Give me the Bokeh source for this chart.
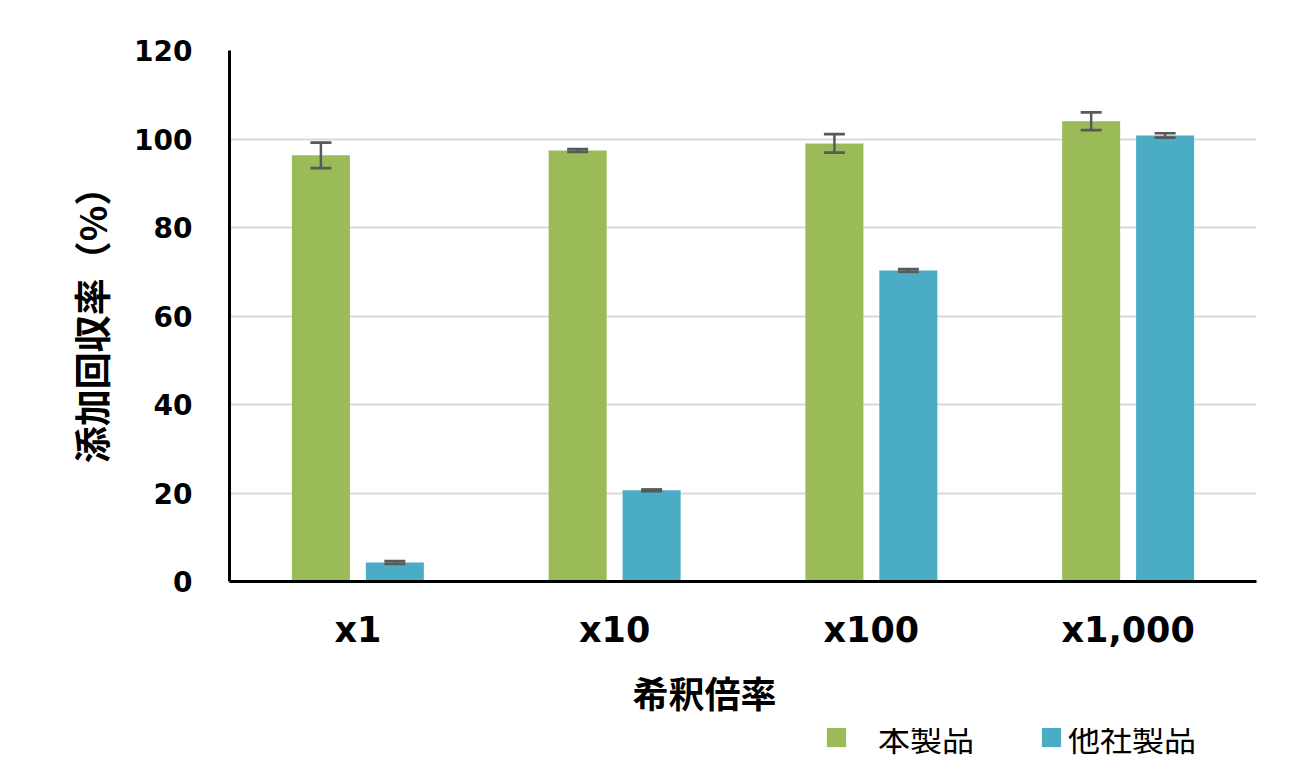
from bokeh.plotting import figure
from bokeh.layouts import column
from bokeh.models import (ColumnDataSource, FactorRange, Whisker, TeeHead, Legend,
                          LegendItem, Range1d, SingleIntervalTicker, Title)
from bokeh.transform import dodge
from bokeh.embed import file_html
from bokeh.resources import INLINE

categories = ["x1", "x10", "x100", "x1,000"]
own_values = [96.3, 97.4, 99.0, 104.0]
own_errors = [2.9, 0.3, 2.1, 2.0]
other_values = [4.3, 20.6, 70.3, 100.8]
other_errors = [0.3, 0.2, 0.3, 0.5]
series_names = ["本製品", "他社製品"]
x_title = "希釈倍率"
y_title = "添加回収率（%）"

GREEN = "#9BBB59"
BLUE = "#4BACC6"
ERR = "#595959"

src_own = ColumnDataSource(dict(
    cat=categories, val=own_values,
    upper=[v + e for v, e in zip(own_values, own_errors)],
    lower=[v - e for v, e in zip(own_values, own_errors)]))
src_other = ColumnDataSource(dict(
    cat=categories, val=other_values,
    upper=[v + e for v, e in zip(other_values, other_errors)],
    lower=[v - e for v, e in zip(other_values, other_errors)]))

p = figure(width=1298, height=728, x_range=FactorRange(factors=categories),
           y_range=Range1d(0, 120), output_backend="svg", toolbar_location=None,
           min_border_left=229, min_border_right=42, min_border_top=50,
           min_border_bottom=147)
p.outline_line_color = None
p.background_fill_color = "white"
p.border_fill_color = "white"

off = 0.144
bw = 0.226
r1 = p.vbar(x=dodge("cat", -off, range=p.x_range), top="val", width=bw,
            source=src_own, fill_color=GREEN, line_color=None)
r2 = p.vbar(x=dodge("cat", off, range=p.x_range), top="val", width=bw,
            source=src_other, fill_color=BLUE, line_color=None)

for src, o in ((src_own, -off), (src_other, off)):
    w = Whisker(base=dodge("cat", o, range=p.x_range), upper="upper", lower="lower",
                source=src, line_color=ERR, line_width=2.5,
                upper_head=TeeHead(size=21, line_color=ERR, line_width=2.7),
                lower_head=TeeHead(size=21, line_color=ERR, line_width=2.7))
    w.level = "overlay"
    p.add_layout(w)

# axes
p.yaxis.ticker = SingleIntervalTicker(interval=20)
for ax in (p.xaxis[0], p.yaxis[0]):
    ax.axis_line_color = "black"
    ax.axis_line_width = 3
    ax.major_tick_line_color = None
    ax.minor_tick_line_color = None
    ax.major_tick_out = 0
    ax.major_tick_in = 0
    ax.major_label_text_font = "DejaVu Sans"
    ax.major_label_text_font_style = "bold"
    ax.major_label_text_color = "black"
    ax.axis_label_text_font = "Noto Sans CJK JP"
    ax.axis_label_text_font_style = "bold"
    ax.axis_label_text_color = "black"

p.yaxis.axis_label_text_font_size = "37px"
p.xaxis.major_label_text_font_size = "35px"
p.yaxis.major_label_text_font_size = "28px"
p.xaxis.major_label_standoff = 28
p.yaxis.major_label_standoff = 33
p.yaxis.axis_label = y_title
p.yaxis.axis_label_standoff = 13

# x-axis title, set slightly left of centre as in the original
p.add_layout(Title(text=x_title, align="left", offset=403, standoff=22,
                   text_font="Noto Sans CJK JP", text_font_style="bold",
                   text_font_size="36px", text_color="black"), "below")

p.xgrid.grid_line_color = None
p.ygrid.grid_line_color = "#D9D9D9"
p.ygrid.grid_line_width = 2
p.ygrid.ticker = SingleIntervalTicker(interval=20)

# legend strip below the chart (its bars sit far outside the strip's visible range)
p2 = figure(width=1298, height=50, x_range=FactorRange(factors=categories),
            y_range=Range1d(1000, 1001),
            x_axis_type=None, y_axis_type=None, output_backend="svg",
            toolbar_location=None, min_border=0)
p2.outline_line_color = None
p2.xgrid.visible = False
p2.ygrid.visible = False
d1 = p2.vbar(x="cat", top="val", width=bw, source=src_own,
             fill_color=GREEN, line_color=None)
d2 = p2.vbar(x="cat", top="val", width=bw, source=src_other,
             fill_color=BLUE, line_color=None)

for r, name, loc, standoff in ((d1, series_names[0], (595, 18), 30),
                                (d2, series_names[1], (810, 18), 5)):
    lg = Legend(items=[LegendItem(label=name, renderers=[r])], location=loc,
                orientation="horizontal", padding=0, margin=0,
                border_line_color=None, background_fill_alpha=0,
                glyph_width=24, glyph_height=24, label_standoff=standoff,
                label_text_font="Noto Sans CJK JP", label_text_font_size="32px",
                label_text_color="black")
    p2.add_layout(lg, "center")

open("out.html", "w").write(file_html(column(p, p2, spacing=0), INLINE))
